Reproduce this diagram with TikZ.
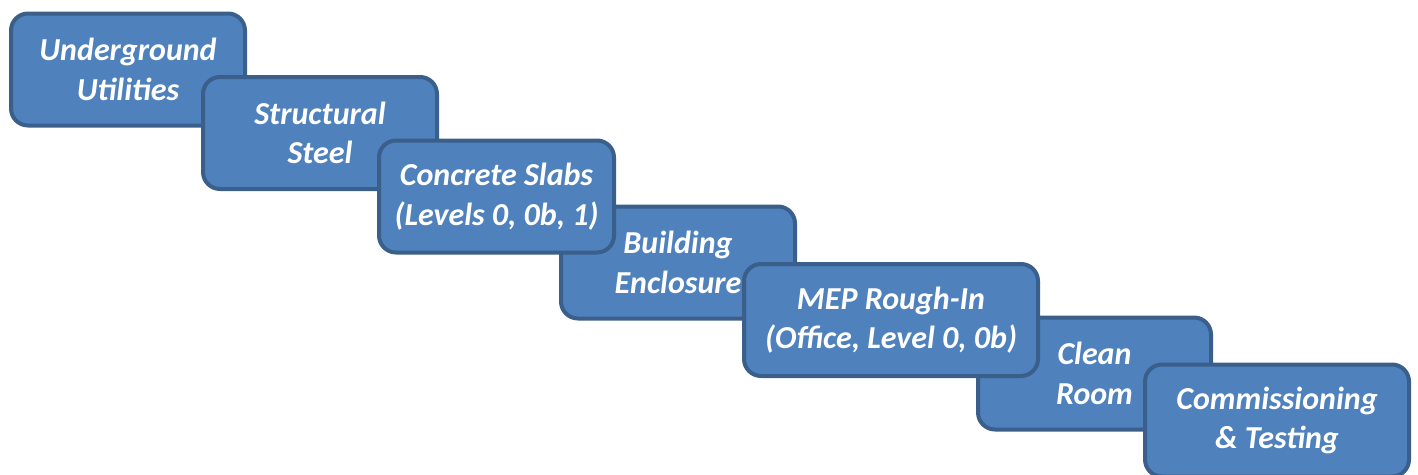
\documentclass[tikz,border=0pt]{standalone}
\usepackage{fontspec}
\setmainfont{Carlito}
\definecolor{boxfill}{HTML}{4F81BD}
\definecolor{boxline}{HTML}{3A5F8B}
\begin{document}
\begin{tikzpicture}[x=1pt,y=-1pt,
  stage/.style={draw=boxline, fill=boxfill, line width=4pt, rounded corners=17pt,
    minimum height=112pt, inner sep=0pt, align=center, text=white,
    font=\fontsize{32}{39.5}\selectfont\bfseries\itshape}]
\useasboundingbox (0,0) rectangle (1418,474);
\node[stage, minimum width=234pt] (s1) at (128,69.5) {Underground\\Utilities};
\node[stage, minimum width=234pt] (s2) at (320,133) {Structural\\Steel};
\node[stage, minimum width=234pt] (s4) at (678,262.5) {Building\\Enclosure};
\node[stage, minimum width=235pt] (s3) at (496.5,196.5) {Concrete Slabs\\(Levels 0, 0b, 1)};
\node[stage, minimum width=233pt] (s6) at (1094.5,373.5) {Clean\\Room};
\node[stage, minimum width=294pt] (s5) at (891,320) {MEP Rough-In\\(Office, Level 0, 0b)};
\node[stage, minimum width=264pt] (s7) at (1277,420.5) {Commissioning\\\& Testing};
\end{tikzpicture}
\end{document}
